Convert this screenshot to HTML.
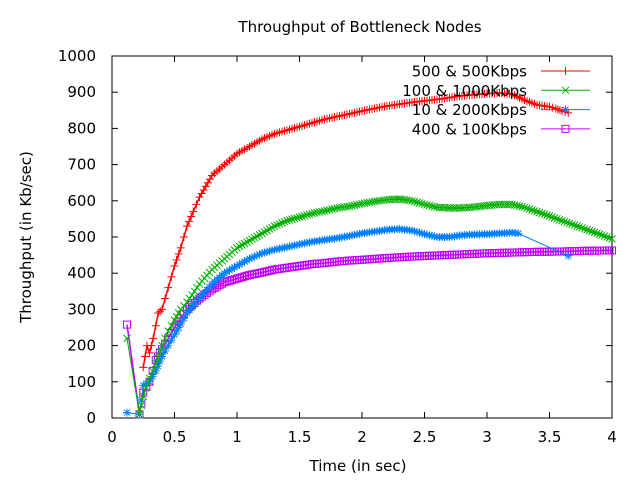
<!DOCTYPE html>
<html><head><meta charset="utf-8"><style>
body{margin:0;background:#fff}
svg text{font-family:"DejaVu Sans","Liberation Sans",sans-serif;font-size:15px;fill:#000}
</style></head><body>
<svg id="c" width="640" height="480" xmlns="http://www.w3.org/2000/svg"></svg>
<script>
const xTicks=[0,0.5,1,1.5,2,2.5,3,3.5,4];
const xTickLabels=["0","0.5","1","1.5","2","2.5","3","3.5","4"];
const yTicks=[0,100,200,300,400,500,600,700,800,900,1000];
const seriesNames=["500 & 500Kbps","100 & 1000Kbps","10 & 2000Kbps","400 & 100Kbps"];
const redT=[0.25,0.28,0.3,0.33,0.37,0.4,0.45,0.5,0.55,0.6,0.65,0.7,0.75,0.8,0.9,1.0,1.1,1.2,1.3,1.4,1.5,1.6,1.7,1.8,1.9,2.0,2.1,2.2,2.3,2.4,2.5,2.6,2.7,2.8,2.9,3.0,3.1,3.2,3.3,3.4,3.5,3.55,3.6,3.65];
const redV=[140,200,180,220,290,300,360,420,470,530,570,610,640,670,700,730,750,770,785,795,805,815,825,833,840,848,855,862,867,872,876,880,885,890,893,896,898,895,878,865,860,855,848,843];
const greenT=[0.12,0.22,0.25,0.3,0.35,0.4,0.45,0.5,0.55,0.6,0.7,0.8,0.9,1.0,1.1,1.2,1.3,1.4,1.5,1.6,1.7,1.8,1.9,2.0,2.1,2.2,2.3,2.4,2.5,2.6,2.7,2.8,2.9,3.0,3.1,3.2,3.3,3.4,3.5,3.6,3.7,3.8,3.9,4.0];
const greenV=[220,10,60,110,150,200,240,270,300,320,370,410,440,470,490,510,530,545,555,565,572,580,585,592,598,603,605,600,590,582,580,580,583,587,590,590,582,570,558,545,533,520,508,495];
const blueT=[0.12,0.22,0.25,0.3,0.35,0.4,0.45,0.5,0.55,0.6,0.7,0.8,0.9,1.0,1.1,1.2,1.3,1.4,1.5,1.6,1.7,1.8,1.9,2.0,2.1,2.2,2.3,2.4,2.5,2.6,2.7,2.8,2.9,3.0,3.1,3.2,3.25,3.65];
const blueV=[15,10,90,100,130,170,200,230,260,290,330,370,400,420,440,455,465,472,480,487,492,497,503,510,515,520,522,518,508,500,500,505,507,508,510,512,510,448];
const purpleT=[0.12,0.22,0.25,0.3,0.35,0.4,0.45,0.5,0.55,0.6,0.7,0.8,0.9,1.0,1.1,1.2,1.3,1.4,1.5,1.6,1.7,1.8,1.9,2.0,2.2,2.4,2.6,2.8,3.0,3.2,3.4,3.6,3.8,4.0];
const purpleV=[258,10,70,100,160,190,220,250,275,300,330,355,375,385,395,402,410,415,420,425,428,432,435,437,442,446,449,452,455,457,459,460,462,463];

const NS="http://www.w3.org/2000/svg",svg=document.getElementById('c');
const X0=112,X1=612,Y0=418,Y1=56;
const xs=t=>X0+(t-0)/(4-0)*(X1-X0);
const ys=v=>Y0-(v-0)/(1000-0)*(Y0-Y1);
function mk(tag,at,parent){const e=document.createElementNS(NS,tag);for(const k in at)e.setAttribute(k,at[k]);(parent||svg).appendChild(e);return e;}
let g;
g=mk('text',{x:360,y:32,'text-anchor':'middle'});g.textContent="Throughput of Bottleneck Nodes";


g=mk('text',{x:358,y:471,'text-anchor':'middle'});g.textContent="Time (in sec)";


g=mk('text',{x:31,y:237,'text-anchor':'middle',transform:'rotate(-90 31 237)'});g.textContent="Throughput (in Kb/sec)";


g=mk('rect',{x:X0,y:Y1,width:X1-X0,height:Y0-Y1,fill:'none',stroke:'#000','stroke-width':1});


xTicks.forEach((t,i)=>{const x=xs(t);
 mk('line',{x1:x,y1:Y0,x2:x,y2:Y0-6,stroke:'#000'});mk('line',{x1:x,y1:Y1,x2:x,y2:Y1+6,stroke:'#000'});
 const tx=mk('text',{x:x,y:Y0+24,'text-anchor':'middle'});tx.textContent=xTickLabels[i];
 
 });
yTicks.forEach(v=>{const y=ys(v);
 mk('line',{x1:X0,y1:y,x2:X0+6,y2:y,stroke:'#000'});mk('line',{x1:X1,y1:y,x2:X1-6,y2:y,stroke:'#000'});
 const tx=mk('text',{x:X0-16,y:y+5,'text-anchor':'end'});tx.textContent=String(v);
 
 });
const colors=['#ff0000','#00b000','#0080ff','#c000ff'];
function marker(type,x,y,c,p){
 if(type===0){mk('path',{d:`M${x-4} ${y}h8M${x} ${y-4}v8`,stroke:c,fill:'none'},p);}
 else if(type===1){mk('path',{d:`M${x-3.5} ${y-3.5}l7 7M${x-3.5} ${y+3.5}l7 -7`,stroke:c,fill:'none'},p);}
 else if(type===2){mk('path',{d:`M${x-4} ${y}h8M${x} ${y-4}v8M${x-3} ${y-3}l6 6M${x-3} ${y+3}l6 -6`,stroke:c,fill:'none'},p);}
 else {mk('rect',{x:x-3.5,y:y-3.5,width:7,height:7,stroke:c,fill:'none'},p);}
}
const data=[[redT,redV],[greenT,greenV],[blueT,blueV],[purpleT,purpleV]];
[3,2,1,0].forEach(i=>{
 const [T,V]=data[i];const grp=mk('g',{});
 
 
 mk('polyline',{points:T.map((t,j)=>xs(t)+','+ys(V[j])).join(' '),fill:'none',stroke:colors[i],'stroke-width':(i==2||i==1)?1:1.5},grp);
 T.forEach((t,j)=>marker(i,xs(t),ys(V[j]),colors[i],grp));
 for(let j=0;j<T.length-1;j++){const dt=T[j+1]-T[j];
  if(dt>0.25||(T[j]<0.3&&dt>0.06))continue;
  const n=Math.round(dt/0.02);
  for(let k=1;k<n;k++){const f=k/n;marker(i,xs(T[j]+f*dt),ys(V[j]+f*(V[j+1]-V[j])),colors[i],grp);}}
});
seriesNames.forEach((n,i)=>{const y=71+i*19.3;
 const lg=mk('g',{});
 
 
 const tx=mk('text',{x:527,y:y+5.5,'text-anchor':'end'},lg);tx.textContent=n;
 mk('line',{x1:541,y1:y,x2:590,y2:y,stroke:colors[i]},lg);
 marker(i,565.5,y,colors[i],lg);});
</script>
</body></html>
